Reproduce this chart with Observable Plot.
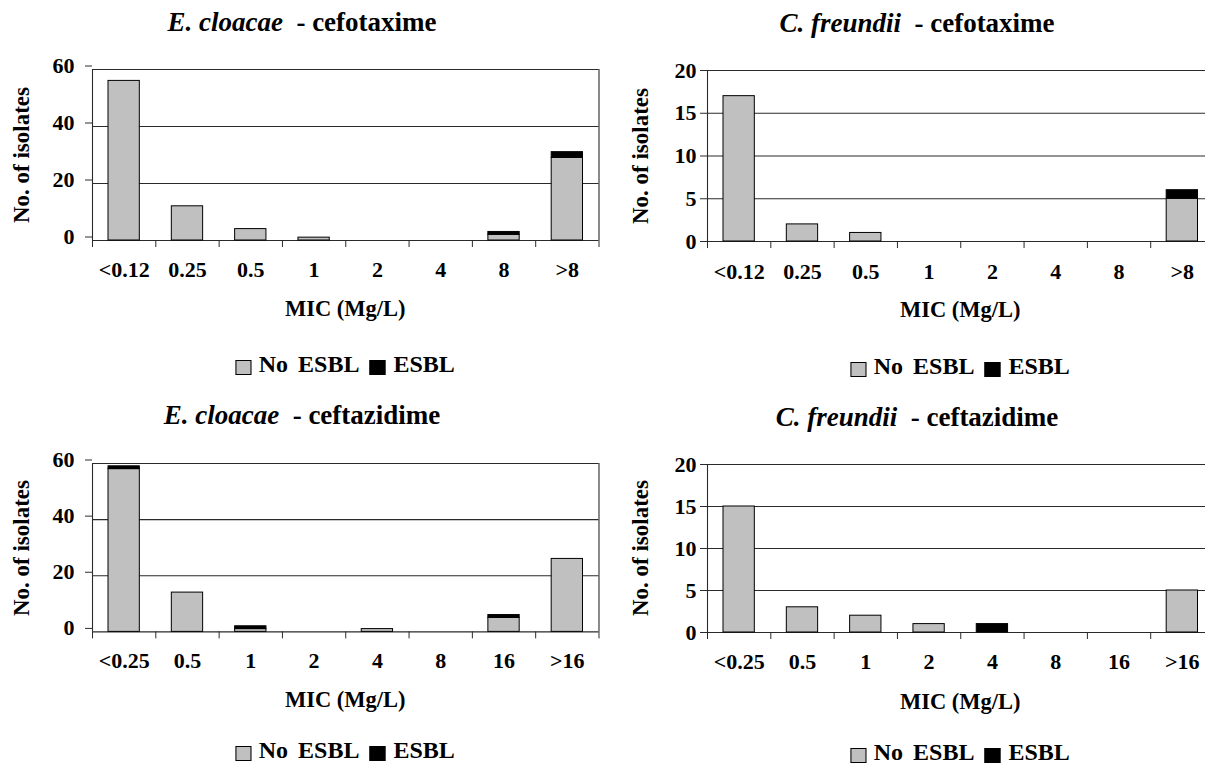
<!DOCTYPE html>
<html>
<head>
<meta charset="utf-8">
<script src="https://cdn.jsdelivr.net/npm/d3@7"></script>
<script src="https://cdn.jsdelivr.net/npm/@observablehq/plot@0.6"></script>
<style>
html, body { margin: 0; padding: 0; background: #fff; }
body { width: 1205px; height: 766px; overflow: hidden; position: relative;
  font-family: "Liberation Serif", "Times New Roman", Times, serif; font-weight: bold; color: #000; }
.t { position: absolute; white-space: pre; line-height: 1; }
.leg { position: absolute; display: flex; align-items: flex-end; white-space: pre; line-height: 1; }
.sw { display: inline-block; width: 14px; height: 13px; border: 1px solid #000; box-sizing: content-box; }
</style>
</head>
<body>
<script>
// ---------- data ----------
const catsCefotaxime = ["<0.12", "0.25", "0.5", "1", "2", "4", "8", ">8"];
const catsCeftazidime = ["<0.25", "0.5", "1", "2", "4", "8", "16", ">16"];

const ecCefotaximeNoEsbl = [56, 12, 4, 1, 0, 0, 2, 29];
const ecCefotaximeEsbl   = [0, 0, 0, 0, 0, 0, 1, 2];
const cfCefotaximeNoEsbl = [17, 2, 1, 0, 0, 0, 0, 5];
const cfCefotaximeEsbl   = [0, 0, 0, 0, 0, 0, 0, 1];
const ecCeftazidimeNoEsbl = [58, 14, 1, 0, 1, 0, 5, 26];
const ecCeftazidimeEsbl   = [1, 0, 1, 0, 0, 0, 1, 0];
const cfCeftazidimeNoEsbl = [15, 3, 2, 1, 0, 0, 0, 5];
const cfCeftazidimeEsbl   = [0, 0, 0, 0, 1, 0, 0, 0];

const yTicksEc = [0, 20, 40, 60];
const yTicksCf = [0, 5, 10, 15, 20];

const seriesLabels = ["No ESBL", "ESBL"];
const yLabel = "No. of isolates";
const xLabel = "MIC (Mg/L)";

// ---------- layout ----------
const FONT = '"Liberation Serif", "Times New Roman", Times, serif';
const panels = [
  {species: "E. cloacae", drug: "cefotaxime", cats: catsCefotaxime, no: ecCefotaximeNoEsbl, esbl: ecCefotaximeEsbl,
   yTicks: yTicksEc, left: 0, plotTop: 69.3, plotH: 171, titleBase: 32, titleX: 302, ylabX: 21,
   xlabBase: 317, legBase: 372, tickPad: 11, ydy: -3.5, xPad: 21},
  {species: "C. freundii", drug: "cefotaxime", cats: catsCefotaxime, no: cfCefotaximeNoEsbl, esbl: cfCefotaximeEsbl,
   yTicks: yTicksCf, left: 615, plotTop: 70, plotH: 171, titleBase: 33, titleX: 917, ylabX: 639.5,
   xlabBase: 318, legBase: 374, tickPad: 4, ydy: 0, xPad: 22},
  {species: "E. cloacae", drug: "ceftazidime", cats: catsCeftazidime, no: ecCeftazidimeNoEsbl, esbl: ecCeftazidimeEsbl,
   yTicks: yTicksEc, left: 0, plotTop: 463.3, plotH: 168.4, titleBase: 425, titleX: 302, ylabX: 21,
   xlabBase: 708, legBase: 758, tickPad: 11, ydy: -3.5, xPad: 20},
  {species: "C. freundii", drug: "ceftazidime", cats: catsCeftazidime, no: cfCeftazidimeNoEsbl, esbl: cfCeftazidimeEsbl,
   yTicks: yTicksCf, left: 615, plotTop: 464, plotH: 168, titleBase: 427, titleX: 917, ylabX: 639.5,
   xlabBase: 710, legBase: 760, tickPad: 4, ydy: 0, xPad: 21}
];

const ML = 92, MT = 10, MB = 50, MR = 10, PLOT_W = 506.5;
const GRAY = "#c0c0c0";
const LINE = "#2a2a2a";

function addText(html, cx, baseline, size, extra = {}) {
  const d = document.createElement("div");
  d.className = "t";
  d.innerHTML = html;
  d.style.fontSize = size + "px";
  d.style.left = cx + "px";
  d.style.top = (baseline - 0.8375 * size) + "px";
  d.style.transform = "translateX(-50%)";
  Object.assign(d.style, extra);
  document.body.appendChild(d);
  return d;
}

function drawPanel(p) {
  const n = p.cats.length;
  const yMax = p.yTicks[p.yTicks.length - 1];
  const rows = p.cats.map((c, i) => ({i, c, no: p.no[i], esbl: p.esbl[i]}));
  const svg = Plot.plot({
    width: ML + PLOT_W + MR,
    height: MT + p.plotH + MB,
    marginLeft: ML, marginRight: MR, marginTop: MT, marginBottom: MB,
    x: {domain: [0, n]},
    y: {domain: [0, yMax]},
    style: {fontFamily: FONT, fontSize: "22px",
            fontWeight: "bold", color: "#000", background: "transparent", overflow: "visible"},
    marks: [
      Plot.ruleY(p.yTicks, {stroke: LINE, strokeWidth: 1.1}),
      Plot.ruleX([0, n], {stroke: LINE, strokeWidth: 1.1}),
      Plot.axisX({ticks: d3.range(n + 1), tickSize: 7, tickFormat: () => "", stroke: LINE, label: null}),
      Plot.axisX({ticks: rows.map(d => d.i + 0.5), tickSize: 0, tickPadding: p.xPad,
                  tickFormat: v => p.cats[Math.floor(v)], label: null}),
      Plot.axisY({ticks: p.yTicks, tickSize: 7, tickPadding: p.tickPad, dy: p.ydy,
                  stroke: LINE, label: null}),
      Plot.rectY(rows.filter(d => d.no > 0), {x1: "i", x2: d => d.i + 1, y1: 0, y2: "no",
                  insetLeft: 16, insetRight: 16, fill: GRAY, stroke: "#000", strokeWidth: 1}),
      Plot.rectY(rows.filter(d => d.esbl > 0), {x1: "i", x2: d => d.i + 1, y1: "no", y2: d => d.no + d.esbl,
                  insetLeft: 16, insetRight: 16, fill: "#000", stroke: "#000", strokeWidth: 1})
    ]
  });
  svg.style.position = "absolute";
  svg.style.left = p.left + "px";
  svg.style.top = (p.plotTop - MT) + "px";
  svg.style.fontFamily = FONT;
  document.body.appendChild(svg);

  const plotCx = p.left + ML + PLOT_W / 2;

  addText(`<span style="font-style:italic">${p.species}</span>  - ${p.drug}`, p.titleX, p.titleBase, 27);
  addText(xLabel, plotCx, p.xlabBase, 22.5);

  const yl = document.createElement("div");
  yl.className = "t";
  yl.textContent = yLabel;
  yl.style.fontSize = "23px";
  yl.style.left = p.ylabX + "px";
  yl.style.top = (p.plotTop + p.plotH / 2) + "px";
  yl.style.transform = "translate(-50%, -50%) rotate(-90deg)";
  document.body.appendChild(yl);

  const size = 24;
  const leg = document.createElement("div");
  leg.className = "leg";
  leg.style.fontSize = size + "px";
  leg.innerHTML =
    `<span class="sw" style="background:${GRAY};margin-bottom:1px"></span>` +
    `<span style="margin-left:7px;word-spacing:4px">${seriesLabels[0]}</span>` +
    `<span class="sw" style="background:#000;margin-left:10px;margin-bottom:1px"></span>` +
    `<span style="margin-left:8px">${seriesLabels[1]}</span>`;
  leg.style.left = plotCx + "px";
  leg.style.top = (p.legBase - 0.8375 * size) + "px";
  leg.style.transform = "translateX(-50%)";
  document.body.appendChild(leg);
}

panels.forEach(drawPanel);
</script>
</body>
</html>
